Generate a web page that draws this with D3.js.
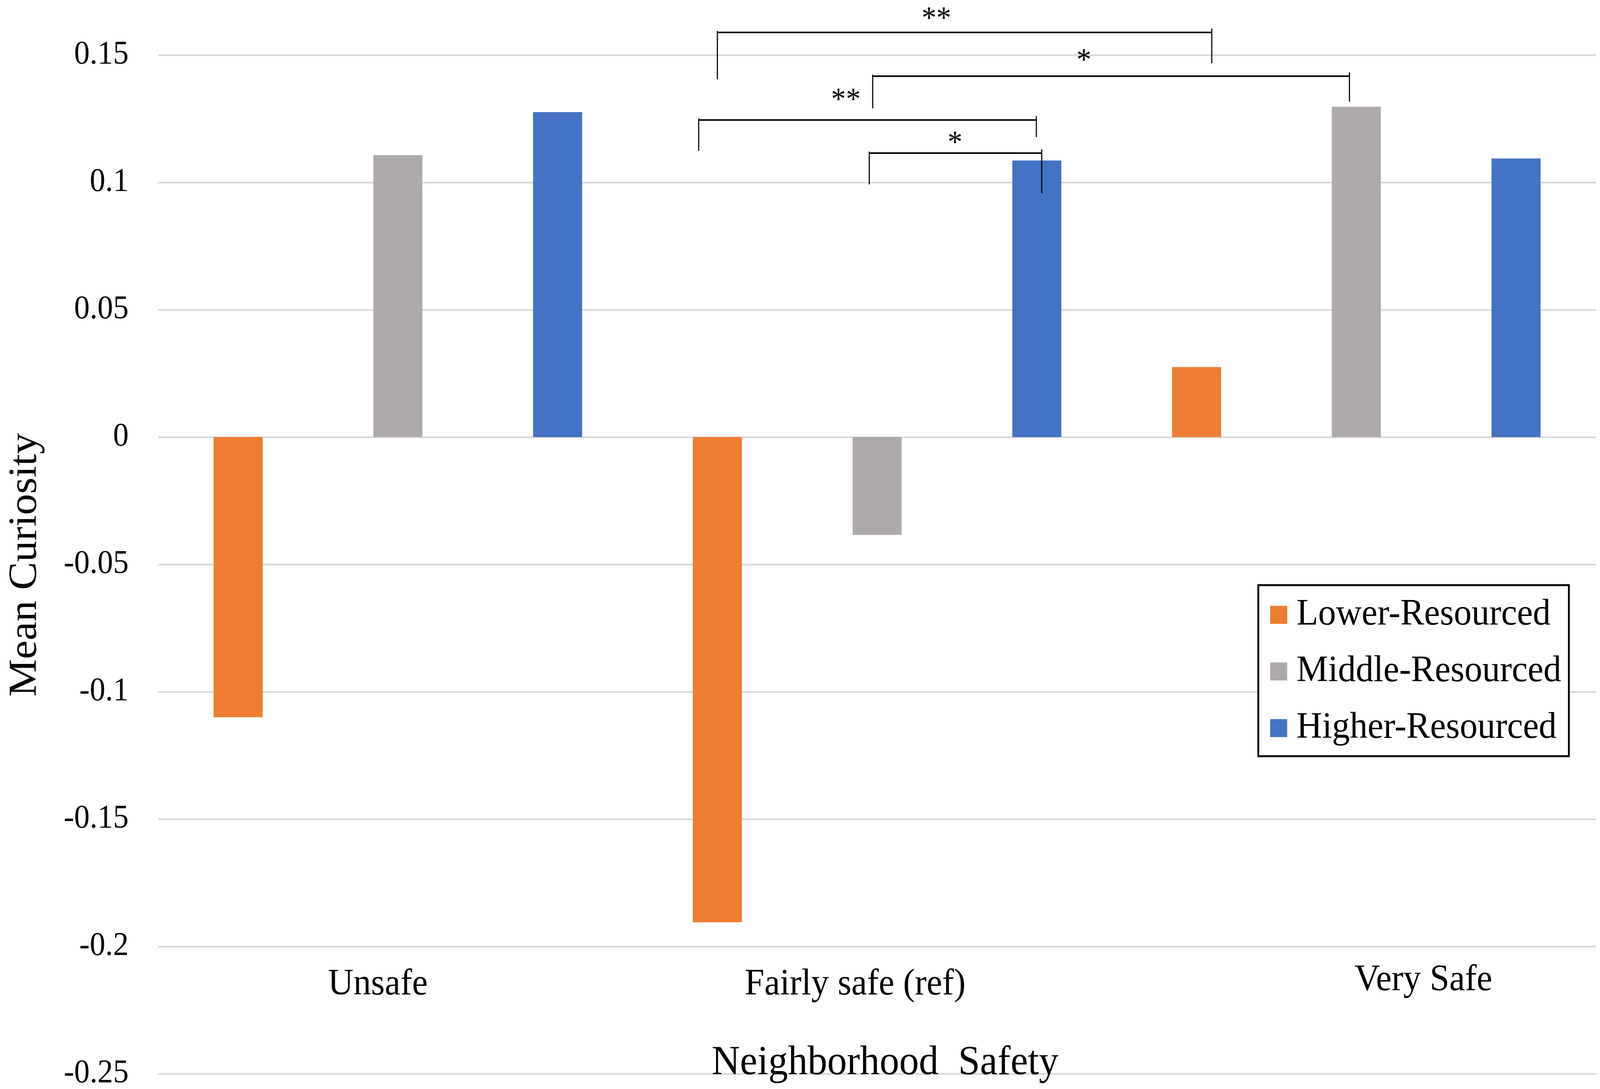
<!DOCTYPE html>
<html>
<head>
<meta charset="utf-8">
<script src="https://cdn.jsdelivr.net/npm/d3@7/dist/d3.min.js"></script>
<style>
  html, body { margin: 0; padding: 0; overflow: hidden; background: #fff; }
  #chart svg { display: block; }
  text { font-family: "Liberation Serif", "Times New Roman", serif; fill: #000; }
</style>
</head>
<body>
<div id="chart"></div>
<script>
var width = 4317,
    height = 2788;

// dati
var categories = ['Unsafe', 'Fairly safe (ref)', 'Very Safe'];
var groups = ['Lower-Resourced', 'Middle-Resourced', 'Higher-Resourced'];
var lowerValues = [-0.110, -0.1905, 0.0275];
var middleValues = [0.1107, -0.0384, 0.1297];
var higherValues = [0.1276, 0.1086, 0.1094];
var yTicks = [0.15, 0.1, 0.05, 0, -0.05, -0.1, -0.15, -0.2, -0.25];

// confronti significativi: [categoria, gruppo] -> [categoria, gruppo], livelli in unità dell'asse y
var brackets = [
    { from: [1, 0], to: [2, 0], y: 0.1589, legFrom: 0.1405, legTo: 0.1468, label: '**' },
    { from: [1, 1], to: [2, 1], y: 0.1417, legFrom: 0.1291, legTo: 0.1317, label: '*' },
    { from: [1, 0], to: [1, 2], y: 0.1245, legFrom: 0.1124, legTo: 0.1178, label: '**' },
    { from: [1, 1], to: [1, 2], y: 0.1115, legFrom: 0.0992, legTo: 0.0957, label: '*' }
];

var colors = ['#ED7D31', '#AEAAAA', '#4472C4'];
var seriesValues = [lowerValues, middleValues, higherValues];

var margin = { top: 141, right: 11, bottom: 39, left: 427 };

// l'SVG si adatta alla finestra, coordinate interne fisse
var svg = d3.select('#chart').append('svg')
    .attr('viewBox', '0 0 ' + width + ' ' + height)
    .attr('preserveAspectRatio', 'none')
    .style('width', '100vw')
    .style('height', '100vh');
svg.append('rect').attr('width', width).attr('height', height).attr('fill', '#fff');

var x0 = d3.scaleBand()
    .domain(categories)
    .range([margin.left, width - margin.right])
    .padding(0);

var x1 = d3.scaleBand()
    .domain(groups)
    .range([0, x0.bandwidth()])
    .paddingInner(0.693)
    .paddingOuter(0.3465);

var y = d3.scaleLinear()
    .domain([-0.25, 0.15])
    .range([height - margin.bottom, margin.top]);

// griglia + etichette asse y
var yAxis = svg.append('g')
    .attr('transform', 'translate(' + margin.left + ',0)')
    .call(d3.axisLeft(y)
        .tickValues(yTicks)
        .tickSize(-(width - margin.left - margin.right))
        .tickPadding(80)
        .tickFormat(d => String(+d.toFixed(2))));
yAxis.select('.domain').remove();
yAxis.selectAll('.tick line').attr('stroke', '#d6d6d6').attr('stroke-width', 4);
yAxis.selectAll('.tick text').attr('dy', '0.25em').style('font-size', '84px');

// barre
var bars = [];
categories.forEach((c, i) => {
    groups.forEach((g, j) => {
        bars.push({ category: c, group: g, value: seriesValues[j][i], color: colors[j] });
    });
});

svg.append('g').selectAll('rect')
    .data(bars)
    .enter()
    .append('rect')
    .attr('x', d => x0(d.category) + x1(d.group))
    .attr('width', x1.bandwidth())
    .attr('y', d => y(Math.max(0, d.value)))
    .attr('height', d => Math.abs(y(d.value) - y(0)))
    .attr('fill', d => d.color);

// etichette categorie (spostate come nell'originale)
var labelNudge = { 'Unsafe': [-54, 2546], 'Fairly safe (ref)': [-59, 2546], 'Very Safe': [181, 2535] };
svg.append('g').selectAll('text')
    .data(categories)
    .enter()
    .append('text')
    .attr('x', d => x0(d) + x0.bandwidth() / 2 + labelNudge[d][0])
    .attr('y', d => labelNudge[d][1])
    .attr('text-anchor', 'middle')
    .style('font-size', '95px')
    .text(d => d);

// titoli assi
svg.append('text')
    .attr('transform', 'translate(97,1446) rotate(-90)')
    .attr('text-anchor', 'middle')
    .style('font-size', '108px')
    .text('Mean Curiosity');

svg.append('text')
    .attr('x', 2388)
    .attr('y', 2750)
    .attr('text-anchor', 'middle')
    .style('font-size', '106px')
    .style('white-space', 'pre')
    .text('Neighborhood  Safety');

// parentesi di significatività
// dove cade ogni estremo sulla barra (0 = bordo sinistro, 1 = destro), posizione e alzo dell'asterisco
var bracketStyle = [
    { a: 0.5, b: 0.81, t: 0.443, lift: 11 },
    { a: 0.41, b: 0.36, t: 0.443, lift: 16 },
    { a: 0.12, b: 0.49, t: 0.436, lift: 27 },
    { a: 0.34, b: 0.6, t: 0.497, lift: 2 }
];

function barX(ref, f) {
    return x0(categories[ref[0]]) + x1(groups[ref[1]]) + x1.bandwidth() * f;
}

var bg = svg.append('g').attr('stroke', '#000').attr('fill', 'none');
brackets.forEach((b, i) => {
    var s = bracketStyle[i],
        xa = barX(b.from, s.a),
        xb = barX(b.to, s.b);
    bg.append('line')
        .attr('x1', xa).attr('x2', xb)
        .attr('y1', y(b.y)).attr('y2', y(b.y))
        .attr('stroke-width', 4);
    bg.append('line')
        .attr('x1', xa).attr('x2', xa)
        .attr('y1', y(b.y) - 4).attr('y2', y(b.legFrom))
        .attr('stroke-width', 3);
    bg.append('line')
        .attr('x1', xb).attr('x2', xb)
        .attr('y1', y(b.y) - 10).attr('y2', y(b.legTo))
        .attr('stroke-width', 3);
    svg.append('text')
        .attr('x', xa + (xb - xa) * s.t)
        .attr('y', y(b.y) - s.lift)
        .attr('text-anchor', 'middle')
        .style('font-size', '80px')
        .text(b.label);
});

// legenda
var legend = svg.append('g').attr('transform', 'translate(3395,1498)');
legend.append('rect')
    .attr('width', 838)
    .attr('height', 438)
    .attr('fill', '#fff')
    .attr('stroke', '#000')
    .attr('stroke-width', 5);

var items = legend.selectAll('g.item')
    .data(groups)
    .enter()
    .append('g')
    .attr('class', 'item')
    .attr('transform', (d, i) => 'translate(0,' + (i * 145) + ')');
items.append('rect')
    .attr('x', 32)
    .attr('y', 53)
    .attr('width', 46)
    .attr('height', 46)
    .attr('fill', (d, i) => colors[i]);
items.append('text')
    .attr('x', 103)
    .attr('y', 101)
    .style('font-size', '96px')
    .text(d => d);
</script>
</body>
</html>
